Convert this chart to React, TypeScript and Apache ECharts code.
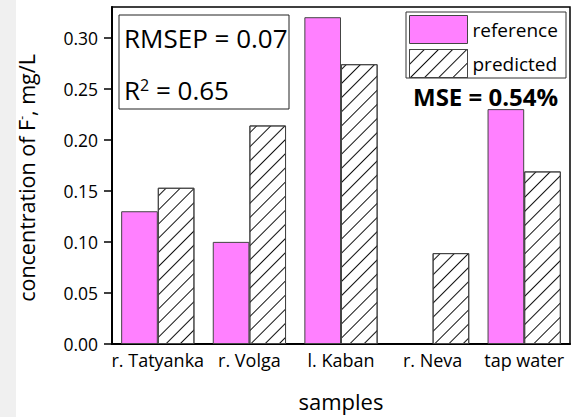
import React, { useEffect, useRef } from 'react';
import * as echarts from 'echarts';

// Fluoride concentration per sample: reference method vs. model prediction
const categories = ['r. Tatyanka', 'r. Volga', 'l. Kaban', 'r. Neva', 'tap water'];
const referenceValues: (number | string)[] = [0.13, 0.1, 0.32, '-', 0.23];
const predictedValues = [0.153, 0.214, 0.274, 0.089, 0.169];
const yTicks = [0, 0.05, 0.1, 0.15, 0.2, 0.25, 0.3];
const seriesNames = ['reference', 'predicted'];

const rmsepText = 'RMSEP = 0.07';
const r2Value = '0.65';
const mseText = 'MSE = 0.54%';

const FONT = "'Open Sans', 'Noto Sans', sans-serif";

export default function App() {
  const ref = useRef<HTMLDivElement>(null);

  useEffect(() => {
    document.body.style.margin = '0';
    if (!ref.current) return;
    const chart = echarts.init(ref.current, undefined, { renderer: 'svg' });

    const legendText = { fontSize: 19, color: '#000', fontFamily: FONT };

    const option: echarts.EChartsOption = {
      animation: false,
      backgroundColor: '#ffffff',
      textStyle: { fontFamily: FONT },
      grid: {
        left: 112,
        right: 10,
        top: 7,
        bottom: 73,
        show: true,
        borderColor: '#000',
        borderWidth: 1.5,
        backgroundColor: 'transparent',
      },
      legend: {
        orient: 'vertical',
        left: 409,
        top: 15,
        padding: 0,
        itemGap: 5,
        itemWidth: 58,
        itemHeight: 28,
        icon: 'rect',
        textStyle: legendText,
        itemStyle: { borderWidth: 1, borderColor: '#444' },
        data: seriesNames.map((name) => ({ name, textStyle: legendText })),
      },
      xAxis: {
        type: 'category',
        data: categories,
        axisLine: { lineStyle: { color: '#000', width: 2 } },
        axisTick: { show: false },
        axisLabel: { fontSize: 18, color: '#000', margin: 7, interval: 0, fontFamily: FONT },
        name: 'samples',
        nameLocation: 'middle',
        nameGap: 46,
        nameTextStyle: { fontSize: 22, color: '#000', fontFamily: FONT },
      },
      yAxis: {
        type: 'value',
        min: 0,
        max: 0.33,
        interval: 0.05,
        splitLine: { show: false },
        axisLine: { show: true, lineStyle: { color: '#000', width: 2 } },
        axisTick: { show: true, length: 8, lineStyle: { color: '#000', width: 1.5 }, customValues: yTicks },
        axisLabel: {
          fontSize: 17.5,
          color: '#000',
          margin: 14,
          fontFamily: FONT,
          customValues: yTicks,
          formatter: (v: number) => v.toFixed(2),
        },
      },
      series: [
        {
          name: seriesNames[0],
          type: 'bar',
          data: referenceValues,
          barGap: '0%',
          barCategoryGap: '20%',
          itemStyle: { color: '#ff80ff', borderColor: '#444', borderWidth: 1 },
        },
        {
          name: seriesNames[1],
          type: 'bar',
          data: predictedValues,
          barGap: '0%',
          barCategoryGap: '20%',
          itemStyle: {
            color: '#ffffff',
            borderColor: '#444',
            borderWidth: 1,
            decal: {
              symbol: 'rect',
              symbolSize: 1,
              color: '#111',
              dashArrayX: [1, 0],
              dashArrayY: [1, 9],
              rotation: -Math.PI / 4,
            },
          },
        },
      ],
      graphic: [
        {
          type: 'rect',
          left: 0,
          top: 0,
          shape: { width: 16, height: 417 },
          style: { fill: '#f0f0f0' },
          silent: true,
        },
        // vertical axis title with superscript charge sign
        {
          type: 'text',
          x: 26,
          y: 178,
          rotation: Math.PI / 2,
          style: {
            text: '{n|concentration of F}{s|-}{n|, mg/L}',
            align: 'center',
            verticalAlign: 'middle',
            rich: {
              n: { fontSize: 21.5, fontFamily: FONT, fill: '#000' },
              s: { fontSize: 12, fontFamily: FONT, fill: '#000', verticalAlign: 'top' },
            },
          },
        },
        // frame around the legend entries
        {
          type: 'rect',
          shape: { x: 406, y: 12, width: 160, height: 66 },
          style: { fill: '#fff', stroke: '#333', lineWidth: 1 },
          silent: true,
        },
        // statistics box
        {
          type: 'rect',
          shape: { x: 119, y: 15, width: 170, height: 94 },
          style: { fill: '#fff', stroke: '#222', lineWidth: 1 },
          silent: true,
        },
        {
          type: 'text',
          x: 124,
          y: 38,
          style: {
            text: rmsepText,
            fontSize: 26,
            fontFamily: FONT,
            fill: '#000',
            verticalAlign: 'middle',
          },
        },
        {
          type: 'text',
          x: 124,
          y: 90,
          style: {
            text: `{a|R}{s|2}{a| = ${r2Value}}`,
            fontFamily: FONT,
            fill: '#000',
            verticalAlign: 'middle',
            rich: {
              a: { fontSize: 26, fontFamily: FONT, fill: '#000' },
              s: { fontSize: 16, fontFamily: FONT, fill: '#000', verticalAlign: 'top' },
            },
          },
        },
        {
          type: 'text',
          x: 413,
          y: 96,
          style: {
            text: mseText,
            fontSize: 24,
            fontWeight: 'bold',
            fontFamily: FONT,
            fill: '#000',
            verticalAlign: 'middle',
          },
        },
      ],
    };

    chart.setOption(option);
    return () => chart.dispose();
  }, []);

  return <div ref={ref} style={{ width: 580, height: 417 }} />;
}
